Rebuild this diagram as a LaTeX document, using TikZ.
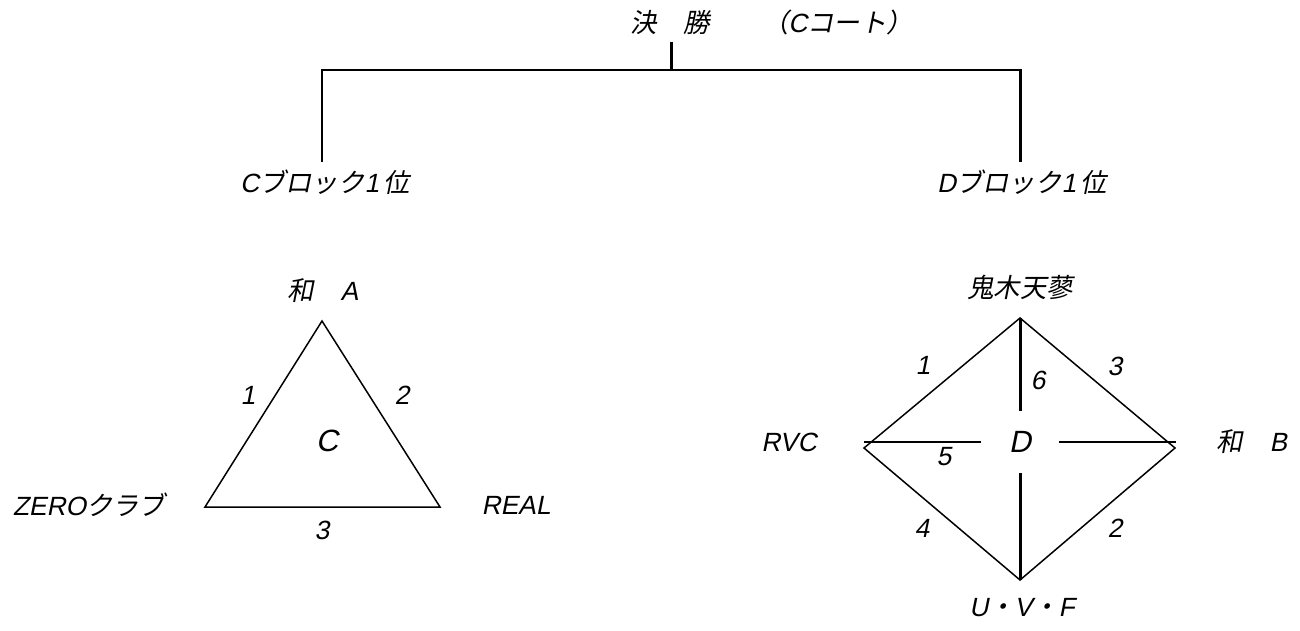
\documentclass[tikz,border=0pt]{standalone}
\usepackage{fontspec}
\newfontfamily\jpit{Noto Sans CJK JP}[FakeSlant=0.2]
\newfontfamily\latit{Liberation Sans}[FakeSlant=0.2]
\newcommand{\lt}[1]{{\latit #1}}
\usetikzlibrary{positioning}

\begin{document}
\begin{tikzpicture}[
  x=0.02cm, y=-0.02cm,
  lbl/.style={inner sep=0pt, font=\jpit\fontsize{15}{18}\selectfont},
  num/.style={inner sep=0pt, font=\latit\fontsize{15}{18}\selectfont},
  blockname/.style={inner sep=0pt, font=\latit\fontsize{17.5}{21}\selectfont},
  bar/.style={line width=1.7pt},
  edge/.style={line width=0.85pt, line join=miter}
]
\useasboundingbox (0,0) rectangle (1300,631);

% final bracket
\node[lbl, anchor=west] (final) at (630,22) {決　勝　　（\lt{C}コート）};
\coordinate (stem) at (671,42);
\coordinate (join) at (671,70);
\coordinate (cl) at (322,70);
\coordinate (dl) at (1020,70);
\coordinate (cend) at (322,162);
\coordinate (dend) at (1020,162);
\draw[bar] (stem) -- (join);
\draw[bar] (cend) -- (cl) -- (dl) -- (dend);
\node[lbl] (cwin) at (325,182) {\lt{C}ブロック\lt{1\,}位};
\node[lbl] (dwin) at (1022,182) {\lt{D}ブロック\lt{1\,}位};

% block C
\coordinate (wa) at (322,321);
\coordinate (real) at (440,507);
\coordinate (zero) at (205,507);
\draw[edge] (wa) -- (real) -- (zero) -- cycle;
\node[lbl] (waA) at (323,291) {和　\lt{A}};
\node[lbl] (zeroname) at (89,505) {\lt{ZERO}クラブ};
\node[num] (realname) at (516,505) {REAL};
\node[num] (c1) at (248,395) {1};
\node[num] (c2) at (402,395) {2};
\node[num] (c3) at (322,530) {3};
\node[blockname] (cC) at (327,441) {C};

% block D
\coordinate (oni) at (1020,318);
\coordinate (wab) at (1175,448);
\coordinate (uvf) at (1020,580);
\coordinate (rvc) at (864,448);
\draw[edge] (oni) -- (wab) -- (uvf) -- (rvc) -- cycle;
\node[blockname, minimum width=1.54cm, minimum height=1.22cm] (dD) at (1020,442) {D};
\coordinate (rvcbar) at (864,442);
\coordinate (wabbar) at (1176,442);
\draw[bar] (rvcbar) -- (dD);
\draw[bar] (wabbar) -- (dD);
\draw[bar] (oni) -- (dD);
\draw[bar] (uvf) -- (dD);
\node[lbl] (oniname) at (1020,287) {鬼木天蓼};
\node[num] (rvcname) at (789,442) {RVC};
\node[lbl] (wabname) at (1252,442) {和　\lt{B}};
\node[lbl] (uvfname) at (1022,608) {\lt{U}・\lt{V}・\lt{F}};
\node[num] (d1) at (923,365) {1};
\node[num] (d3) at (1115,366) {3};
\node[num] (d6) at (1038,380) {6};
\node[num] (d5) at (944,457) {5};
\node[num] (d4) at (922,528) {4};
\node[num] (d2) at (1115,528) {2};
\end{tikzpicture}
\end{document}
